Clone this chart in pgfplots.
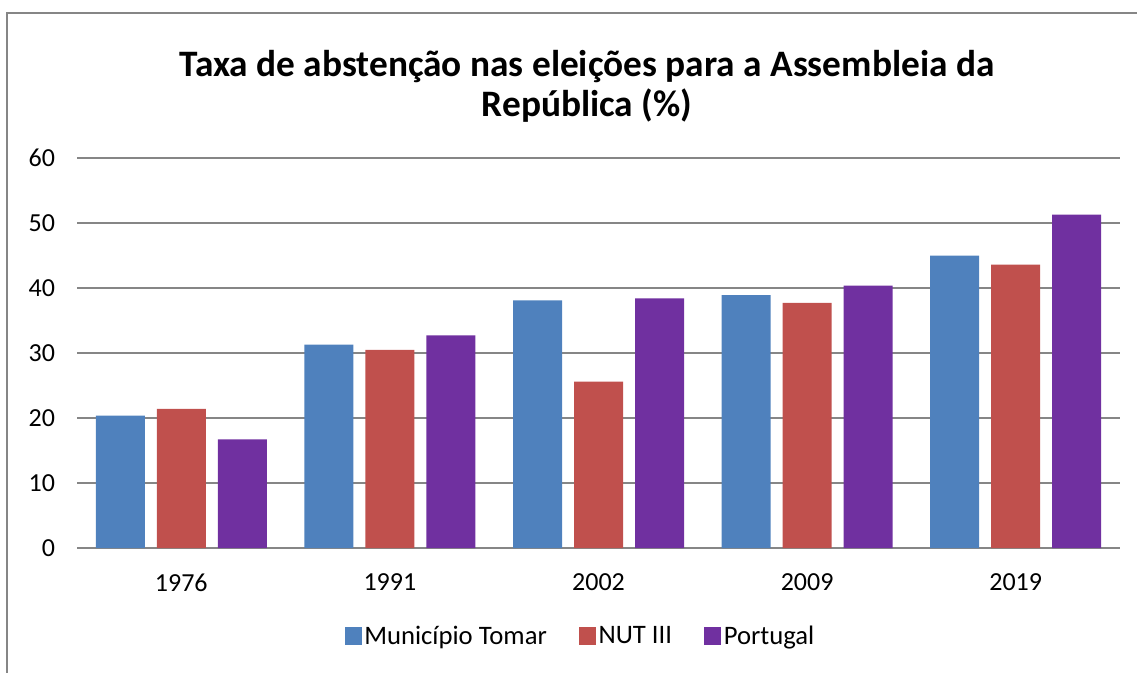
\documentclass[border=0pt]{standalone}
\usepackage{fontspec}
\setmainfont{Carlito}
\usepackage{pgfplots}
\pgfplotsset{compat=1.18}
\definecolor{cBlue}{HTML}{4F81BD}
\definecolor{cRed}{HTML}{C0504D}
\definecolor{cPurple}{HTML}{7030A0}
\definecolor{cGrid}{HTML}{868686}
\begin{document}
\begin{tikzpicture}[x=0.75pt,y=0.75pt]
\useasboundingbox (-77,-124) rectangle (1060,548);
\draw[cGrid, line width=1.1pt] (-70,-130) -- (-70,535) -- (1070,535);
\node[font=\fontsize{28}{30}\selectfont\bfseries, align=center] at (510,462) {Taxa de abstenção nas eleições para a Assembleia da\\República (\%)};
\begin{axis}[
  at={(0,0)}, anchor=south west, scale only axis,
  width=782.25pt, height=292.5pt,
  ybar=9pt, bar width=36.75pt,
  xmin=-0.5, xmax=4.5, ymin=0, ymax=60,
  xtick={0,1,2,3,4}, xticklabels={1976,1991,2002,2009,2019},
  ytick={0,10,...,60},
  ymajorgrids, grid style={cGrid, line width=1pt},
  axis line style={draw=none},
  major tick length=0pt,
  /pgf/number format/assume math mode=true,
  tick label style={font=\fontsize{19.5}{22}\selectfont},
  yticklabel style={xshift=-13pt},
  xticklabel style={yshift=-16pt},
  legend image code/.code={\fill[#1] (-2.5pt,-6.4pt) rectangle (10.25pt,6.4pt);},
  legend style={at={(0.483,-0.2256)}, anchor=center, draw=none, legend columns=3,
    font=\fontsize{20}{23}\selectfont,
    /tikz/every even column/.append style={column sep=22pt}},
  legend cell align=left,
]
\addplot[fill=cBlue, draw=none] coordinates {(0,20.35) (1,31.3) (2,38.1) (3,38.9) (4,45.0)};
\addplot[fill=cRed, draw=none] coordinates {(0,21.4) (1,30.5) (2,25.6) (3,37.7) (4,43.6)};
\addplot[fill=cPurple, draw=none] coordinates {(0,16.7) (1,32.7) (2,38.4) (3,40.35) (4,51.3)};
\legend{Município Tomar, NUT III, Portugal}
\end{axis}
\end{tikzpicture}
\end{document}
